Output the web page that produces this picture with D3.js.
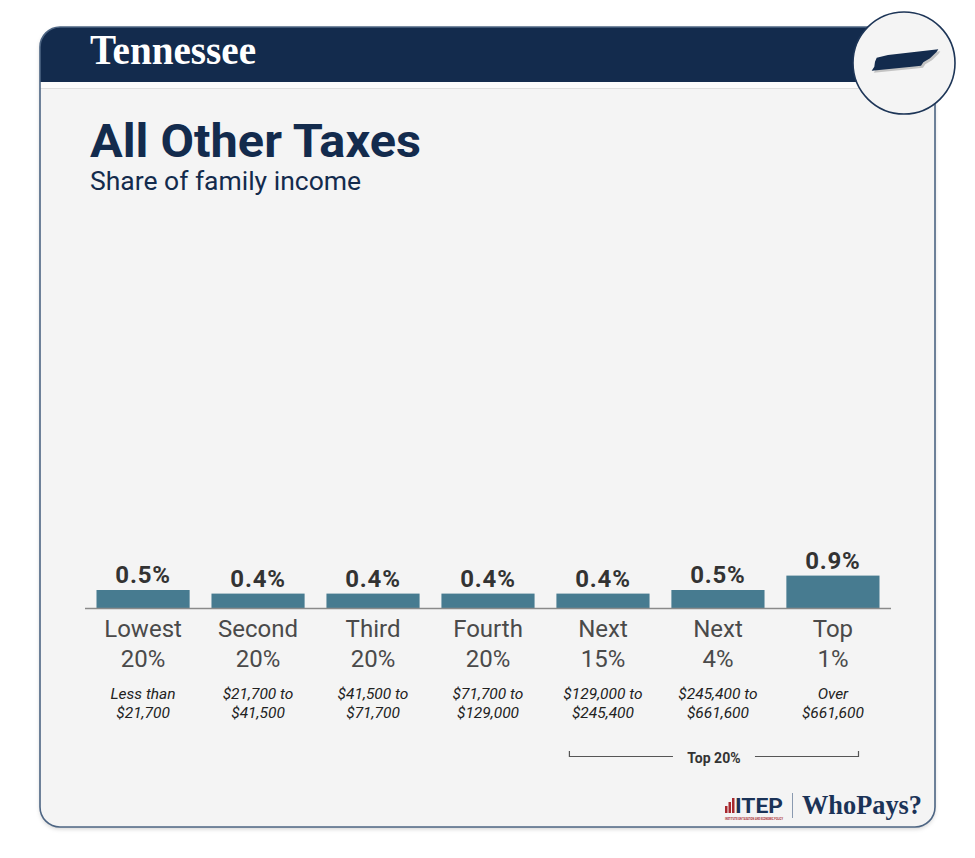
<!DOCTYPE html>
<html>
<head>
<meta charset="utf-8">
<script src="https://cdn.jsdelivr.net/npm/d3@7"></script>
<style>
  body { margin: 0; background: #fff; }
  svg { display: block; }
</style>
</head>
<body>
<svg id="chart" width="975" height="858"></svg>
<script>
// income groups
const groupNames = ["Lowest", "Second", "Third", "Fourth", "Next", "Next", "Top"];
const groupShares = ["20%", "20%", "20%", "20%", "15%", "4%", "1%"];
const incomeFrom = ["Less than", "$21,700 to", "$41,500 to", "$71,700 to", "$129,000 to", "$245,400 to", "Over"];
const incomeTo = ["$21,700", "$41,500", "$71,700", "$129,000", "$245,400", "$661,600", "$661,600"];
// share of family income, percent
const taxShare = [0.5, 0.4, 0.4, 0.4, 0.4, 0.5, 0.9];

const navy = "#132b4d";
const svg = d3.select("#chart");

const defs = svg.append("defs");
defs.append("clipPath").attr("id", "cardClip")
  .append("rect").attr("x", 40).attr("y", 27).attr("width", 895).attr("height", 800).attr("rx", 20);
const shadow = defs.append("filter").attr("id", "shadow")
  .attr("x", "-5%").attr("y", "-5%").attr("width", "110%").attr("height", "110%");
shadow.append("feDropShadow").attr("dx", 0).attr("dy", 2).attr("stdDeviation", 2)
  .attr("flood-color", "#000").attr("flood-opacity", 0.18);

// card
svg.append("rect")
  .attr("x", 40).attr("y", 27).attr("width", 895).attr("height", 800).attr("rx", 20)
  .attr("fill", "#f4f4f4").attr("filter", "url(#shadow)");

const card = svg.append("g").attr("clip-path", "url(#cardClip)");
card.append("rect").attr("x", 40).attr("y", 27).attr("width", 895).attr("height", 55).attr("fill", navy);
card.append("rect").attr("x", 40).attr("y", 82).attr("width", 895).attr("height", 6).attr("fill", "#fbfbfb");
card.append("line").attr("x1", 40).attr("x2", 935).attr("y1", 88.5).attr("y2", 88.5)
  .attr("stroke", "#dedede").attr("stroke-width", 1);

svg.append("rect")
  .attr("x", 40).attr("y", 27).attr("width", 895).attr("height", 800).attr("rx", 20)
  .attr("fill", "none").attr("stroke", "#4d6583").attr("stroke-width", 1.6);

svg.append("text")
  .attr("x", 90).attr("y", 64)
  .attr("font-family", "Liberation Serif, serif").attr("font-weight", "bold")
  .attr("font-size", 43).attr("fill", "#fff")
  .attr("textLength", 166).attr("lengthAdjust", "spacingAndGlyphs")
  .text("Tennessee");

// state badge
svg.append("circle")
  .attr("cx", 904).attr("cy", 63).attr("r", 51)
  .attr("fill", "#f4f4f4").attr("stroke", "#1d3557").attr("stroke-width", 1.6);
const tn = "M876.7,57.7 L888,55 L938.3,49.3 L936.7,51.7 L930,58.3 L923.3,62.3 L921,65.7 L911.7,66.7 L871.7,70.7 L874.3,66.7 L875,61.7 Z";
svg.append("path").attr("d", tn).attr("fill", "#9a9a9a").attr("opacity", 0.55)
  .attr("transform", "translate(2,2)");
svg.append("path").attr("d", tn).attr("fill", navy);

// titles
svg.append("text")
  .attr("x", 90).attr("y", 157)
  .attr("font-family", "Roboto, sans-serif").attr("font-weight", "bold")
  .attr("font-size", 47).attr("fill", navy)
  .attr("textLength", 331).attr("lengthAdjust", "spacingAndGlyphs")
  .text("All Other Taxes");
svg.append("text")
  .attr("x", 90).attr("y", 190)
  .attr("font-family", "Roboto, sans-serif")
  .attr("font-size", 25).attr("fill", navy)
  .attr("textLength", 271).attr("lengthAdjust", "spacingAndGlyphs")
  .text("Share of family income");

// chart
const idx = d3.range(taxShare.length);
const x = d3.scaleBand().domain(idx).range([85, 891]).paddingInner(0.19).paddingOuter(0.1);
const y = d3.scaleLinear().domain([0, 1]).range([608, 572]);
const cx = i => x(i) + x.bandwidth() / 2;

const g = svg.append("g");

g.selectAll(".bar")
  .data(idx)
  .join("rect")
  .classed("bar", true)
  .attr("x", i => x(i))
  .attr("y", i => y(taxShare[i]))
  .attr("width", x.bandwidth())
  .attr("height", i => y(0) - y(taxShare[i]))
  .attr("fill", "#477b90");

g.append("line")
  .attr("x1", x.range()[0]).attr("x2", x.range()[1])
  .attr("y1", y(0) + 0.5).attr("y2", y(0) + 0.5)
  .attr("stroke", "#8a8a8a").attr("stroke-width", 1.5);

g.selectAll(".value")
  .data(idx)
  .join("text")
  .classed("value", true)
  .attr("x", cx)
  .attr("y", i => y(taxShare[i]) - 7)
  .attr("text-anchor", "middle")
  .attr("font-family", "Roboto, sans-serif").attr("font-weight", "bold")
  .attr("font-size", 24).attr("letter-spacing", 0.8).attr("fill", "#333")
  .text(i => taxShare[i].toFixed(1) + "%");

const cat = g.selectAll(".cat")
  .data(idx)
  .join("text")
  .classed("cat", true)
  .attr("text-anchor", "middle")
  .attr("font-family", "Roboto, sans-serif")
  .attr("font-size", 24).attr("fill", "#4a4a4a");
cat.append("tspan").attr("x", cx).attr("y", 637).text(i => groupNames[i]);
cat.append("tspan").attr("x", cx).attr("y", 667).text(i => groupShares[i]);

const inc = g.selectAll(".inc")
  .data(idx)
  .join("text")
  .classed("inc", true)
  .attr("text-anchor", "middle")
  .attr("font-family", "Roboto, sans-serif").attr("font-style", "italic")
  .attr("font-size", 15.5).attr("fill", "#222");
inc.append("tspan").attr("x", cx).attr("y", 699).text(i => incomeFrom[i]);
inc.append("tspan").attr("x", cx).attr("y", 718).text(i => incomeTo[i]);

// top 20% bracket
const bx0 = x(4) + 13, bx1 = x(6) + x.bandwidth() - 21, by = 756.5;
const bmid = (bx0 + bx1) / 2;
g.append("path")
  .attr("d", `M${bx0},751 V${by} H${bmid - 41} M${bmid + 41},${by} H${bx1} V751`)
  .attr("fill", "none").attr("stroke", "#555").attr("stroke-width", 1.2);
g.append("text")
  .attr("x", bmid).attr("y", 762.5)
  .attr("text-anchor", "middle")
  .attr("font-family", "Roboto, sans-serif").attr("font-weight", "bold")
  .attr("font-size", 14).attr("fill", "#333")
  .text("Top 20%");

// logo
const logo = svg.append("g");
[[725, 806, 7], [728.5, 802, 11], [732, 798, 15]].forEach(([bx, byy, bh]) => {
  logo.append("rect").attr("x", bx).attr("y", byy).attr("width", 2.5).attr("height", bh).attr("fill", "#a8282e");
});
logo.append("text")
  .attr("x", 735).attr("y", 813)
  .attr("font-family", "Roboto, sans-serif").attr("font-weight", "bold")
  .attr("font-size", 20).attr("fill", "#1b3358")
  .attr("textLength", 48).attr("lengthAdjust", "spacingAndGlyphs")
  .text("ITEP");
logo.append("text")
  .attr("x", 725).attr("y", 820)
  .attr("font-family", "Roboto, sans-serif").attr("font-weight", "bold")
  .attr("font-size", 2.6).attr("fill", "#a8282e")
  .attr("textLength", 58).attr("lengthAdjust", "spacingAndGlyphs")
  .text("INSTITUTE ON TAXATION AND ECONOMIC POLICY");
logo.append("line")
  .attr("x1", 792.5).attr("x2", 792.5).attr("y1", 793).attr("y2", 818)
  .attr("stroke", "#8a9ab0").attr("stroke-width", 1);
logo.append("text")
  .attr("x", 802).attr("y", 814)
  .attr("font-family", "Liberation Serif, serif").attr("font-weight", "bold")
  .attr("font-size", 28).attr("fill", "#1b3358")
  .attr("textLength", 120).attr("lengthAdjust", "spacingAndGlyphs")
  .text("WhoPays?");
</script>
</body>
</html>
